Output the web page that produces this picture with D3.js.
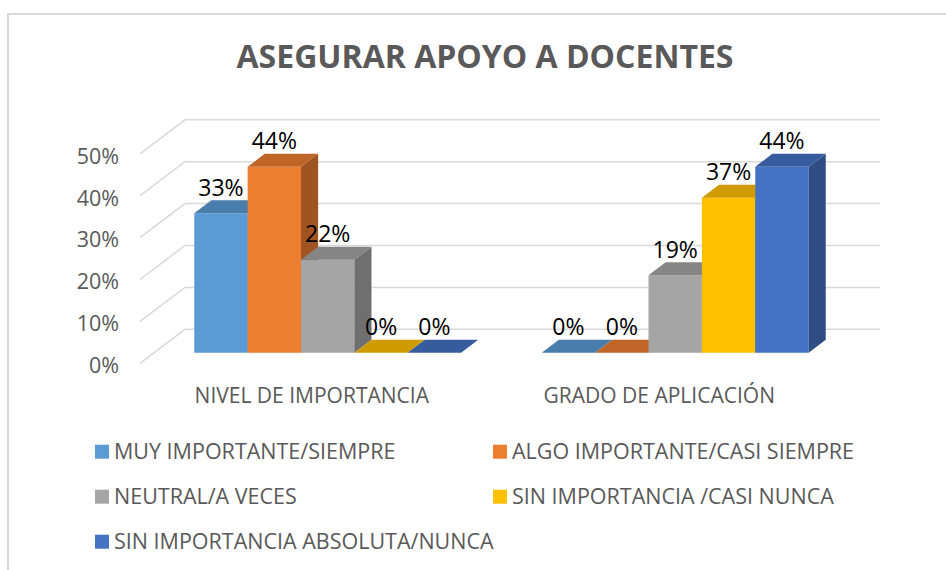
<!DOCTYPE html>
<html>
<head>
<meta charset="utf-8">
<script src="https://cdnjs.cloudflare.com/ajax/libs/d3/7.8.5/d3.min.js"></script>
<style>
  body { margin: 0; background: #fff; }
  svg { display: block; font-family: "Open Sans", "Liberation Sans", sans-serif; }
  .axis .domain { display: none; }
</style>
</head>
<body>
<div id="wrapper"></div>
<script>
// chart data
const chartTitle = "ASEGURAR APOYO A DOCENTES";
const categories = ["NIVEL DE IMPORTANCIA", "GRADO DE APLICACIÓN"];
const seriesNames = [
    "MUY IMPORTANTE/SIEMPRE",
    "ALGO IMPORTANTE/CASI SIEMPRE",
    "NEUTRAL/A VECES",
    "SIN IMPORTANCIA /CASI NUNCA",
    "SIN IMPORTANCIA ABSOLUTA/NUNCA"
];
const seriesColors = ["#5B9BD5", "#ED7D31", "#A5A5A5", "#FFC000", "#4472C4"];
const nivelValues = [33.3, 44.4, 22.2, 0, 0];
const gradoValues = [0, 0, 18.5, 37.0, 44.4];
const yTicks = [0, 10, 20, 30, 40, 50];

const valuesByCategory = [nivelValues, gradoValues];

var dimension = {
    width: 946,
    height: 570,
    plotLeft: 140,
    plotRight: 835,
    floorY: 363.3,       // front edge of the floor
    wallHeight: 209.5,   // height of 0..50%
    depth: { dx: 45, dy: -34 },
    barDepth: [0.31, 0.69]
};

const svg = d3.select("#wrapper").append("svg")
    .attr("width", dimension.width)
    .attr("height", dimension.height);

// chart border
svg.append("rect")
    .attr("x", 8).attr("y", 14)
    .attr("width", 1000).attr("height", 700)
    .attr("fill", "none")
    .attr("stroke", "#d9d9d9")
    .attr("stroke-width", 2);

svg.append("text")
    .attr("x", 485).attr("y", 68)
    .attr("text-anchor", "middle")
    .attr("font-size", "32px")
    .attr("font-weight", "bold")
    .attr("fill", "#595959")
    .text(chartTitle);

// scales
const x0 = d3.scaleBand()
    .domain(categories)
    .range([dimension.plotLeft, dimension.plotRight])
    .paddingInner(0.232)
    .paddingOuter(0.116);

const x1 = d3.scaleBand()
    .domain(seriesNames)
    .range([0, x0.bandwidth()]);

const yFront = d3.scaleLinear()
    .domain([0, 50])
    .range([dimension.floorY, dimension.floorY - dimension.wallHeight]);

// project a front-plane x, a value and a depth (0 front, 1 back) to screen
function proj(x, v, z) {
    return [x + z * dimension.depth.dx, yFront(v) + z * dimension.depth.dy];
}

// gridlines: back wall + left wall
const grid = svg.append("g")
    .attr("stroke", "#d9d9d9")
    .attr("stroke-width", 1.5)
    .attr("fill", "none");

grid.selectAll("path")
    .data(yTicks)
    .join("path")
    .attr("d", (d) => {
        const a = proj(dimension.plotLeft, d, 0);
        const b = proj(dimension.plotLeft, d, 1);
        const c = proj(dimension.plotRight, d, 1);
        return `M${a}L${b}L${c}`;
    });

// y axis labels
const yAxisGroup = svg.append("g")
    .classed("axis", true)
    .attr("transform", "translate(119, 2.5)")
    .call(d3.axisLeft(yFront)
        .tickValues(yTicks)
        .tickFormat((d) => d + "%")
        .tickSize(0)
        .tickPadding(0));

yAxisGroup.selectAll("text")
    .attr("font-size", "21.5px")
    .attr("font-family", "Open Sans, sans-serif")
    .attr("fill", "#595959");

// category labels
const xAxisGroup = svg.append("g")
    .classed("axis", true)
    .attr("transform", "translate(-2, 388)")
    .call(d3.axisBottom(x0).tickSize(0).tickPadding(0));

xAxisGroup.selectAll("text")
    .attr("font-size", "21px")
    .attr("font-family", "Open Sans, sans-serif")
    .attr("fill", "#595959");

// bars
const bars = [];
categories.forEach((cat, ci) => {
    seriesNames.forEach((s, si) => {
        bars.push({ cat: cat, series: s, color: seriesColors[si], value: valuesByCategory[ci][si] });
    });
});

const [z0, z1] = dimension.barDepth;
const barsGroup = svg.append("g");

const barG = barsGroup.selectAll("g")
    .data(bars)
    .join("g");

const poly = (pts) => "M" + pts.map((p) => p.join(",")).join("L") + "Z";

// front face
barG.append("path")
    .attr("fill", (d) => d.color)
    .attr("d", (d) => {
        const x = x0(d.cat) + x1(d.series);
        const w = x1.bandwidth();
        return poly([proj(x, 0, z0), proj(x + w, 0, z0), proj(x + w, d.value, z0), proj(x, d.value, z0)]);
    });

// side face
barG.append("path")
    .attr("fill", (d) => d3.color(d.color).darker(1.1))
    .attr("d", (d) => {
        const x = x0(d.cat) + x1(d.series) + x1.bandwidth();
        return poly([proj(x, 0, z0), proj(x, 0, z1), proj(x, d.value, z1), proj(x, d.value, z0)]);
    });

// top face
barG.append("path")
    .attr("fill", (d) => d3.color(d.color).darker(0.6))
    .attr("d", (d) => {
        const x = x0(d.cat) + x1(d.series);
        const w = x1.bandwidth();
        return poly([proj(x, d.value, z0), proj(x + w, d.value, z0), proj(x + w, d.value, z1), proj(x, d.value, z1)]);
    });

// data labels
barsGroup.selectAll("text")
    .data(bars)
    .join("text")
    .attr("x", (d) => proj(x0(d.cat) + x1(d.series) + x1.bandwidth() / 2, d.value, z0)[0])
    .attr("y", (d) => proj(0, d.value, z0)[1] - 26)
    .attr("dy", "0.36em")
    .attr("text-anchor", "middle")
    .attr("font-size", "23px")
    .attr("fill", "#000")
    .text((d) => Math.round(d.value) + "%");

// legend
const legend = svg.append("g")
    .selectAll("g")
    .data(seriesNames)
    .join("g")
    .attr("transform", (d, i) => `translate(${i % 2 === 0 ? 95 : 493}, ${451.7 + Math.floor(i / 2) * 45})`);

legend.append("rect")
    .attr("x", 0).attr("y", -7)
    .attr("width", 14).attr("height", 14)
    .attr("fill", (d, i) => seriesColors[i]);

legend.append("text")
    .attr("x", 19)
    .attr("dy", "0.36em")
    .attr("font-size", "21.5px")
    .attr("fill", "#595959")
    .text((d) => d);
</script>
</body>
</html>
